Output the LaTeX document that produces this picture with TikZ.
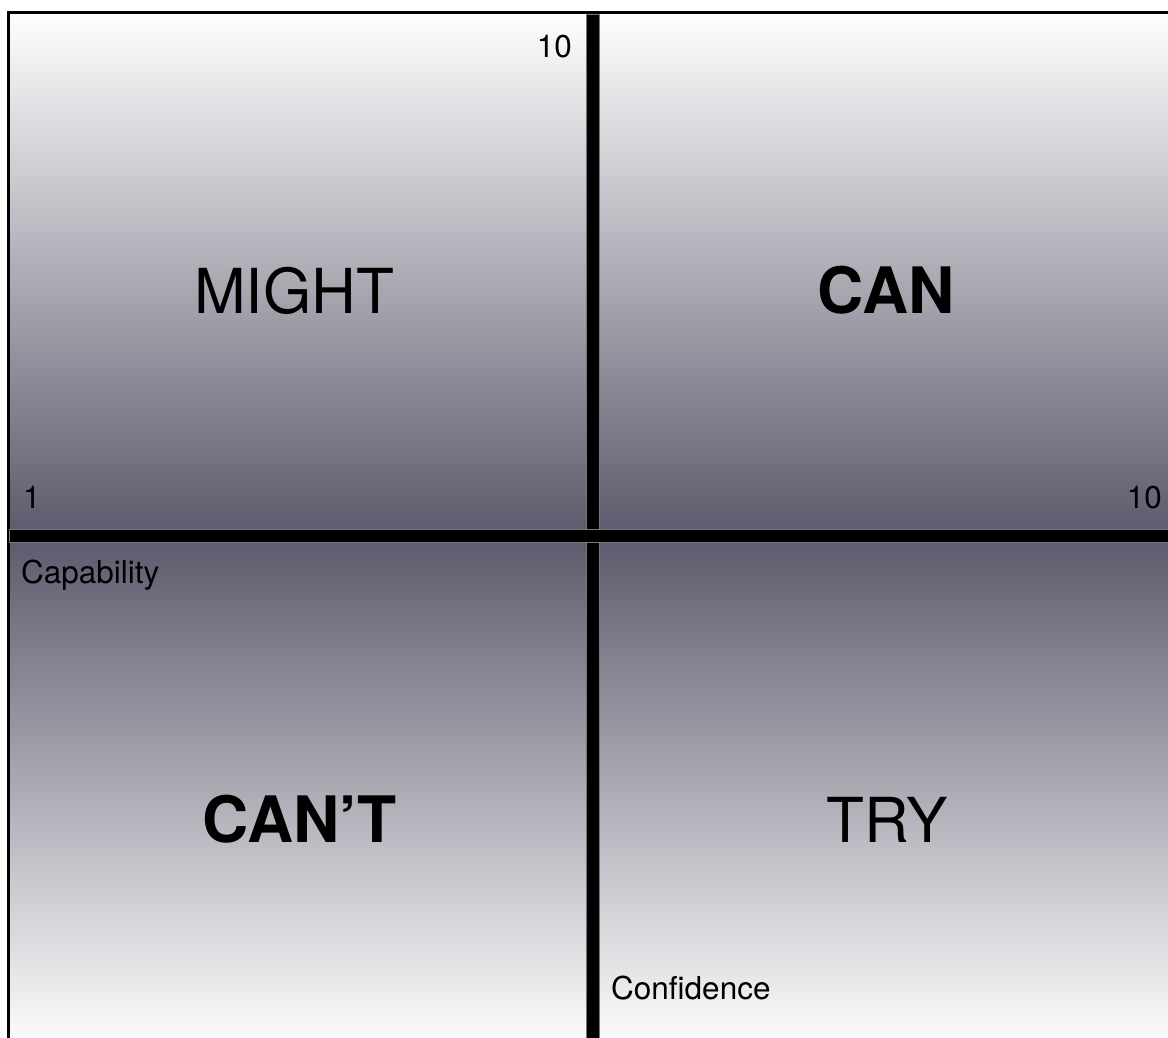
\documentclass[tikz,border=0pt]{standalone}
\usepackage{fontspec}
\setmainfont{TeX Gyre Heros}
\definecolor{paneldark}{RGB}{92,92,110}
\definecolor{panellight}{RGB}{254,254,254}
\definecolor{edgegray}{RGB}{120,120,125}
\begin{document}
\begin{tikzpicture}[x=1pt,y=-1pt,
  lbl/.style={inner sep=0pt,font=\fontsize{31.5}{36}\selectfont},
  bigtxt/.style={inner sep=0pt,font=\fontsize{62}{70}\selectfont},
  bigbold/.style={inner sep=0pt,font=\fontsize{64}{70}\selectfont\bfseries},
  toppanel/.style={top color=panellight,bottom color=paneldark,draw=none},
  botpanel/.style={top color=paneldark,bottom color=panellight,draw=none},
  axisbar/.style={fill=black,draw=edgegray,line width=0.6pt}]
\useasboundingbox (0,0) rectangle (1168,1037);
\fill[white] (0,0) rectangle (1168,1037);
% panels
\shade[toppanel] (9,14) rectangle (1168,529);
\shade[botpanel] (9,542) rectangle (1168,1048);
% frame
\draw[line width=3pt] (8,1040) -- (8,12.5) -- (1170,12.5);
% axes
\filldraw[axisbar] (586,14) rectangle (599,1045);
\filldraw[axisbar] (9,529) rectangle (1172,542);
% labels
\node[lbl,anchor=base east] (ytop) at (572,57) {10};
\node[lbl,anchor=base west] (xleft) at (23,508) {1};
\node[lbl,anchor=base east] (xright) at (1162,508) {10};
\node[lbl,anchor=base west] (capab) at (21,583) {Capability};
\node[lbl,anchor=base west] (confid) at (611,999) {Confidence};
\node[bigtxt,anchor=base] (might) at (294,313) {MIGHT};
\node[bigbold,anchor=base] (can) at (886,313) {CAN};
\node[bigbold,anchor=base] (cant) at (299.5,842) {CAN’T};
\node[bigtxt,anchor=base] (try) at (887,842) {TRY};
\end{tikzpicture}
\end{document}
